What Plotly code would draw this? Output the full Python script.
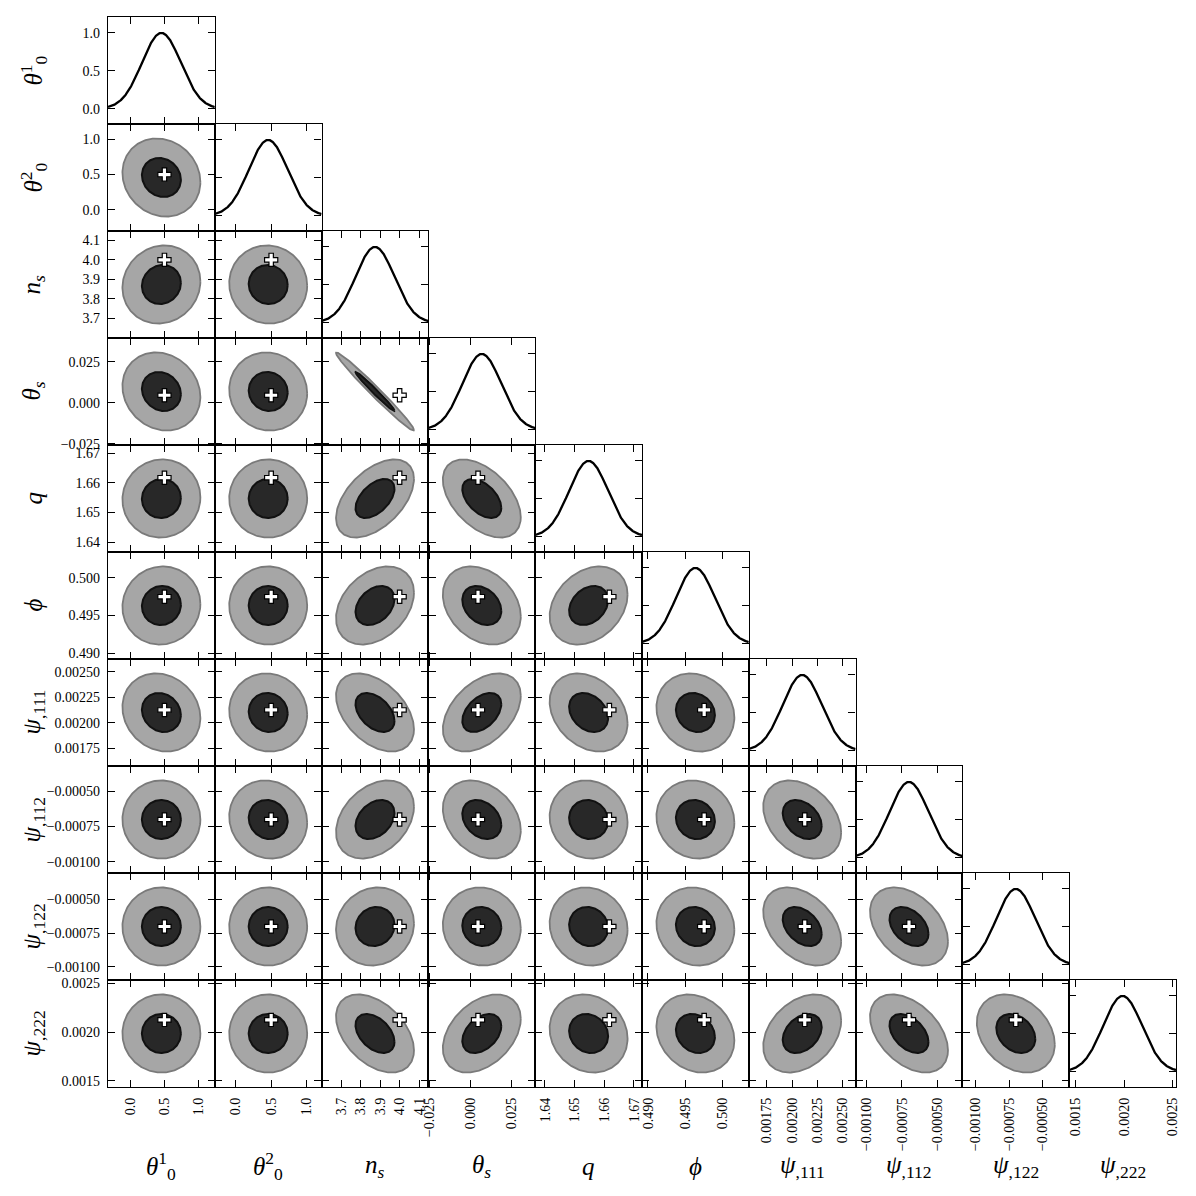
import numpy as np
import plotly.graph_objects as go

# ---------------- data ----------------
param_labels = [
    "<i>θ</i><sup>1</sup><sub>0</sub>",
    "<i>θ</i><sup>2</sup><sub>0</sub>",
    "<i>n<sub>s</sub></i>",
    "<i>θ<sub>s</sub></i>",
    "<i>q</i>",
    "<i>ϕ</i>",
    "<i>ψ</i><sub>,111</sub>",
    "<i>ψ</i><sub>,112</sub>",
    "<i>ψ</i><sub>,122</sub>",
    "<i>ψ</i><sub>,222</sub>",
]
means = [0.455, 0.458, 3.873, 0.0068, 1.6547, 0.49633, 0.0021, -0.0007, -0.0007, 0.001985]
sigmas = [0.288, 0.276, 0.1005, 0.0119, 0.00657, 0.0026, 0.000192, 0.000139, 0.000145, 0.000201]
truths = [0.5, 0.5, 4.0, 0.0045, 1.6617, 0.4975, 0.002125, -0.0007, -0.0007, 0.002125]

tick_vals = [
    [0.0, 0.5, 1.0],
    [0.0, 0.5, 1.0],
    [3.7, 3.8, 3.9, 4.0, 4.1],
    [-0.025, 0.0, 0.025],
    [1.64, 1.65, 1.66, 1.67],
    [0.490, 0.495, 0.500],
    [0.00175, 0.00200, 0.00225, 0.00250],
    [-0.00100, -0.00075, -0.00050],
    [-0.00100, -0.00075, -0.00050],
    [0.0015, 0.0020, 0.0025],
]
tick_text = [
    ["0.0", "0.5", "1.0"],
    ["0.0", "0.5", "1.0"],
    ["3.7", "3.8", "3.9", "4.0", "4.1"],
    ["−0.025", "0.000", "0.025"],
    ["1.64", "1.65", "1.66", "1.67"],
    ["0.490", "0.495", "0.500"],
    ["0.00175", "0.00200", "0.00225", "0.00250"],
    ["−0.00100", "−0.00075", "−0.00050"],
    ["−0.00100", "−0.00075", "−0.00050"],
    ["0.0015", "0.0020", "0.0025"],
]
diag_ticks = [0.0, 0.5, 1.0]
diag_ticktext = ["0.0", "0.5", "1.0"]

# correlation coefficients for each (row, col) pair, row > col
correlations = {
    (1, 0): -0.12,
    (2, 0): 0.08, (2, 1): -0.03,
    (3, 0): -0.14, (3, 1): -0.05, (3, 2): -0.985,
    (4, 0): 0.03, (4, 1): 0.0, (4, 2): 0.50, (4, 3): -0.48,
    (5, 0): 0.04, (5, 1): 0.0, (5, 2): 0.33, (5, 3): -0.28, (5, 4): 0.28,
    (6, 0): -0.14, (6, 1): -0.05, (6, 2): -0.43, (6, 3): 0.43, (6, 4): -0.28, (6, 5): -0.13,
    (7, 0): 0.0, (7, 1): -0.08, (7, 2): 0.33, (7, 3): -0.28, (7, 4): -0.07, (7, 5): -0.08, (7, 6): -0.33,
    (8, 0): 0.0, (8, 1): 0.0, (8, 2): 0.08, (8, 3): -0.05, (8, 4): -0.08, (8, 5): -0.08, (8, 6): -0.38, (8, 7): -0.38,
    (9, 0): 0.0, (9, 1): 0.0, (9, 2): -0.43, (9, 3): 0.38, (9, 4): -0.13, (9, 5): -0.18, (9, 6): 0.33, (9, 7): -0.43, (9, 8): -0.28,
}

# ---------------- layout geometry ----------------
N = len(means)
PAGE = 1196
BODY_MARGIN = 8          # default HTML body margin around the plot div
FIG = PAGE - 2 * BODY_MARGIN


def px_x(p):
    return (p - BODY_MARGIN) / FIG


def px_y(p):
    return 1 - (p - BODY_MARGIN) / FIG


RANGE_K = 2.74
DIAG_RANGE = [-0.2, 1.21]
x_left, x_right = px_x(108), px_x(1176)
y_top, y_bot = px_y(17), px_y(1087)
W = (x_right - x_left) / N
H = (y_top - y_bot) / N

ranges = [[m - RANGE_K * s, m + RANGE_K * s] for m, s in zip(means, sigmas)]

TICK_FONT = dict(family="Liberation Serif, DejaVu Serif, serif", size=14, color="black")
LABEL_FONT = dict(family="Liberation Serif, DejaVu Serif, serif", size=25, color="black")

fig = go.Figure()
layout = {}
k = 0
for i in range(N):
    for j in range(i + 1):
        k += 1
        xa = "x" if k == 1 else f"x{k}"
        ya = "y" if k == 1 else f"y{k}"
        xkey = "xaxis" if k == 1 else f"xaxis{k}"
        ykey = "yaxis" if k == 1 else f"yaxis{k}"
        common = dict(showgrid=False, zeroline=False, showline=True, linecolor="black",
                      linewidth=1.3, mirror="ticks", ticks="inside", ticklen=7,
                      tickwidth=1.2, tickcolor="black", tickfont=TICK_FONT, automargin=False)
        layout[xkey] = dict(common, domain=[x_left + j * W, x_left + (j + 1) * W], anchor=ya,
                            range=ranges[j], tickmode="array", tickvals=tick_vals[j],
                            ticktext=tick_text[j], showticklabels=(i == N - 1), tickangle=-90,
                            ticklabelstandoff=4)
        if i == j:
            layout[ykey] = dict(common, domain=[y_top - (i + 1) * H, y_top - i * H], anchor=xa,
                                range=DIAG_RANGE, tickmode="array", tickvals=diag_ticks,
                                ticktext=diag_ticktext, showticklabels=(i == 0),
                                ticklabelstandoff=4)
            xs = np.linspace(ranges[j][0], ranges[j][1], 300)
            ys = np.exp(-0.5 * ((xs - means[j]) / sigmas[j]) ** 2)
            fig.add_trace(go.Scatter(x=xs, y=ys, mode="lines", xaxis=xa, yaxis=ya,
                                     line=dict(color="black", width=2.3), showlegend=False,
                                     hoverinfo="skip"))
        else:
            layout[ykey] = dict(common, domain=[y_top - (i + 1) * H, y_top - i * H], anchor=xa,
                                range=ranges[i], tickmode="array", tickvals=tick_vals[i],
                                ticktext=tick_text[i], showticklabels=(j == 0),
                                ticklabelstandoff=4)
            rho = correlations[(i, j)]
            sx, sy = sigmas[j], sigmas[i]
            cov = np.array([[sx * sx, rho * sx * sy], [rho * sx * sy, sy * sy]])
            L = np.linalg.cholesky(cov)
            t = np.linspace(0, 2 * np.pi, 200)
            circ = np.vstack([np.cos(t), np.sin(t)])
            for r, fcol, lcol, lw in [(2.0, "#a6a6a6", "#7a7a7a", 1.8), (1.0, "#282828", "#111111", 2.0)]:
                pts = L @ (r * circ)
                fig.add_trace(go.Scatter(x=means[j] + pts[0], y=means[i] + pts[1], mode="lines",
                                         fill="toself", fillcolor=fcol,
                                         line=dict(color=lcol, width=lw), xaxis=xa, yaxis=ya,
                                         showlegend=False, hoverinfo="skip"))
            fig.add_trace(go.Scatter(x=[truths[j]], y=[truths[i]], mode="markers", xaxis=xa, yaxis=ya,
                                     marker=dict(symbol="cross", size=11, color="white",
                                                 line=dict(color="black", width=1.2)),
                                     showlegend=False, hoverinfo="skip"))

annotations = []
for i in range(N):
    yc = y_top - (i + 0.5) * H
    annotations.append(dict(text=param_labels[i], x=px_x(33), y=yc, xref="paper", yref="paper",
                            showarrow=False, textangle=-90, font=LABEL_FONT,
                            xanchor="center", yanchor="middle"))
for j in range(N):
    xc = x_left + (j + 0.5) * W
    annotations.append(dict(text=param_labels[j], x=xc, y=px_y(1166), xref="paper", yref="paper",
                            showarrow=False, font=LABEL_FONT, xanchor="center", yanchor="middle"))

fig.update_layout(**layout)
fig.update_layout(width=FIG, height=FIG, margin=dict(l=0, r=0, t=0, b=0, autoexpand=False),
                  paper_bgcolor="white", plot_bgcolor="white", annotations=annotations,
                  showlegend=False)
fig.write_html("out.html")
